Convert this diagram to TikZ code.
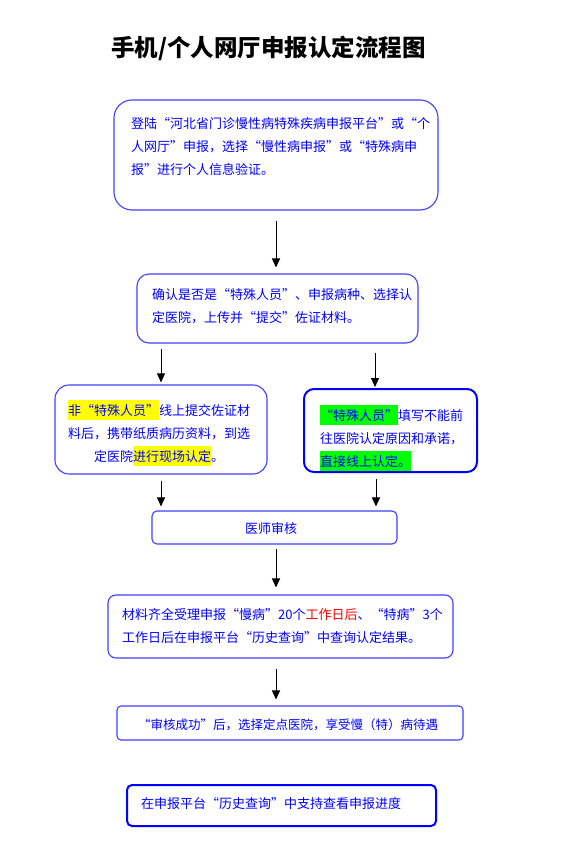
\documentclass[tikz,border=0pt]{standalone}
\usepackage{fontspec}
\newfontfamily\cjk{Noto Sans CJK SC}
\usetikzlibrary{arrows.meta}
\definecolor{boxblue}{RGB}{64,64,255}
\definecolor{txtblue}{RGB}{0,0,255}
\definecolor{hlyellow}{RGB}{255,255,0}
\definecolor{hlgreen}{RGB}{0,255,0}
\definecolor{hlred}{RGB}{255,0,0}
\newcommand{\hlbox}[2]{{\setlength{\fboxsep}{0pt}\colorbox{#1}{\rule[-5pt]{0pt}{20pt}#2}}}
\begin{document}
\begin{tikzpicture}[x=1pt,y=-1pt,
  box/.style={draw=boxblue, line width=1.1pt, rectangle, inner sep=0pt},
  thickbox/.style={draw=txtblue, line width=2pt, rectangle, inner sep=0pt},
  txt/.style={text=txtblue, font=\cjk\fontsize{13}{23}\selectfont, inner sep=0pt, align=left, anchor=north west},
  arr/.style={-{Triangle[length=9pt,width=8pt]}, line width=1pt, black}]
\fill[white] (0,0) rectangle (576,862);
\useasboundingbox (0,0) rectangle (576,862);

\node[font=\cjk\bfseries\fontsize{23.5}{28}\selectfont, inner sep=0pt] (title) at (268.5,48) {手机/个人网厅申报认定流程图};

% boxes
\node[box, rounded corners=18pt, minimum width=324pt, minimum height=110pt] (b1) at (276,155) {};
\node[box, rounded corners=12pt, minimum width=281pt, minimum height=69pt] (b2) at (277.5,308.5) {};
\node[box, rounded corners=14pt, minimum width=212pt, minimum height=89pt] (b3) at (161,429.5) {};
\node[thickbox, rounded corners=10pt, minimum width=173pt, minimum height=83pt] (b4) at (390.5,430.5) {};
\node[box, rounded corners=5pt, minimum width=245pt, minimum height=33pt] (b5) at (274.5,527.5) {};
\node[box, rounded corners=8pt, minimum width=345pt, minimum height=63pt] (b6) at (280.5,626.5) {};
\node[box, rounded corners=4pt, minimum width=346pt, minimum height=34pt] (b7) at (290,723) {};
\node[thickbox, rounded corners=5pt, minimum width=309pt, minimum height=41pt] (b8) at (281.5,805.5) {};

% texts
\node[txt] (t1) at (131,117) {登陆“河北省门诊慢性病特殊疾病申报平台”或“个\\人网厅”申报，选择“慢性病申报”或“特殊病申\\报”进行个人信息验证。};
\node[txt] (t2) at (152,288) {确认是否是“特殊人员”、申报病种、选择认\\定医院，上传并“提交”佐证材料。};
\node[txt, align=center, anchor=north] (t3) at (159,400) {\hlbox{hlyellow}{非“特殊人员”}线上提交佐证材\\料后，携带纸质病历资料，到选\\定医院\hlbox{hlyellow}{进行现场认定}。};
\node[txt] (t4) at (320,405) {\hlbox{hlgreen}{“特殊人员”}填写不能前\\往医院认定原因和承诺，\\\hlbox{hlgreen}{直接线上认定。}};
\node[txt, anchor=center] (t5) at (271,529) {医师审核};
\node[txt] (t6) at (122,608) {材料齐全受理申报“慢病”20个\textcolor{hlred}{工作日后}、“特病”3个\\工作日后在申报平台“历史查询”中查询认定结果。};
\node[txt, anchor=west, font=\cjk\fontsize{12.5}{23}\selectfont] (t7) at (138,725) {“审核成功”后，选择定点医院，享受慢（特）病待遇};
\node[txt, anchor=west] (t8) at (141,804) {在申报平台“历史查询”中支持查看申报进度};

% connectors
\coordinate (r1) at ([xshift=-15.5pt]b4.north);
\coordinate (r2) at ([xshift=-14.5pt]b4.south);
\coordinate (c6) at ([xshift=-4.5pt]b6.south);
\draw[arr, shorten <=10pt, shorten >=6pt] (b1.south) -- (b1.south |- b2.north);
\draw[arr, shorten <=5pt, shorten >=2pt] (b3.north |- b2.south) -- (b3.north);
\draw[arr, shorten <=9pt, shorten >=1pt] (r1 |- b2.south) -- (r1);
\draw[arr, shorten <=6pt, shorten >=4pt] (b3.south) -- (b3.south |- b5.north);
\draw[arr, shorten <=6pt, shorten >=4pt] (r2) -- (r2 |- b5.north);
\draw[arr, shorten <=4pt, shorten >=7pt] ([xshift=1.5pt]b5.south) -- ([xshift=1.5pt]b5.south |- b6.north);
\draw[arr, shorten <=10pt, shorten >=6pt] (c6) -- (c6 |- b7.north);
\end{tikzpicture}
\end{document}
